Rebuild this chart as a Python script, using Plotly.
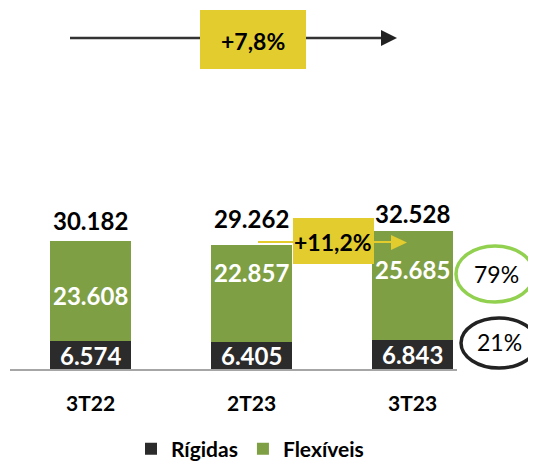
import plotly.graph_objects as go

# ---------------- data ----------------
categories = ["3T22", "2T23", "3T23"]
rigidas = [6574, 6405, 6843]
flexiveis = [23608, 22857, 25685]
totals = [30182, 29262, 32528]
growth_total = "+7,8%"
growth_qoq = "+11,2%"
share_flex = "79%"
share_rig = "21%"
series_names = ["Rígidas", "Flexíveis"]

# ---------------- style ----------------
# the page body has an 8px margin, so the figure is drawn 8px smaller
OFF = 8
W, H = 536 - OFF, 461 - OFF
L, R, T, B = 10 - OFF, 79, 0, 92
PW, PH = W - L - R, H - T - B
DARK = "#2B2B2B"
GREEN = "#7F9F45"
YELLOW = "#E2CC2E"
FONT = "Lato"


def fmt(v):
    return f"{v:,}".replace(",", ".")


def px(x):  # screen x of reference -> paper
    return (x - OFF - L) / PW


def py(y):  # screen y of reference -> paper
    return (T + PH - (y - OFF)) / PH


fig = go.Figure()
fig.add_trace(go.Bar(x=categories, y=rigidas, name=series_names[0],
                     marker=dict(color=DARK, line=dict(width=0)), width=0.503))
fig.add_trace(go.Bar(x=categories, y=flexiveis, name=series_names[1],
                     marker=dict(color=GREEN, line=dict(width=0)), width=0.503))

ann = []
bold = dict(family=FONT, size=24, color="black", weight="bold")
white = dict(family=FONT, size=24, color="white", weight="bold")
total_shift = [20, 26, 17]
flex_shift = [-55, -28, -39]
for i, c in enumerate(categories):
    ann.append(dict(x=c, y=totals[i], xref="x", yref="y", text=fmt(totals[i]),
                    showarrow=False, yshift=total_shift[i], font=bold,
                    xanchor="center", yanchor="middle"))
    ann.append(dict(x=c, y=totals[i], xref="x", yref="y", text=fmt(flexiveis[i]),
                    showarrow=False, yshift=flex_shift[i], font=white,
                    xanchor="center", yanchor="middle"))
    ann.append(dict(x=c, y=rigidas[i] / 2, xref="x", yref="y", text=fmt(rigidas[i]),
                    showarrow=False, font=white, xanchor="center", yanchor="middle"))

shapes = []
# top arrow
shapes.append(dict(type="line", xref="paper", yref="paper", x0=px(70), x1=px(384),
                   y0=py(38), y1=py(38), line=dict(color="#333333", width=2.5)))
shapes.append(dict(type="path", xref="paper", yref="paper",
                   path=f"M{px(381)},{py(30)} L{px(397)},{py(38)} L{px(381)},{py(46)} Z",
                   fillcolor="#222222", line=dict(width=0)))
shapes.append(dict(type="rect", xref="paper", yref="paper", x0=px(200), x1=px(306),
                   y0=py(69), y1=py(10), fillcolor=YELLOW, line=dict(width=0)))
ann.append(dict(x=px(253), y=py(41), xref="paper", yref="paper", text=growth_total,
                showarrow=False, xanchor="center", yanchor="middle",
                font=dict(family=FONT, size=23, color="black", weight="bold")))

# yellow arrow between 2T23 and 3T23
shapes.append(dict(type="line", xref="paper", yref="paper", x0=px(258), x1=px(394),
                   y0=py(242), y1=py(242), line=dict(color=YELLOW, width=2)))
shapes.append(dict(type="path", xref="paper", yref="paper",
                   path=f"M{px(391)},{py(235)} L{px(407)},{py(242.5)} L{px(391)},{py(250)} Z",
                   fillcolor=YELLOW, line=dict(width=0)))
shapes.append(dict(type="rect", xref="paper", yref="paper", x0=px(293), x1=px(374),
                   y0=py(264), y1=py(218), fillcolor=YELLOW, line=dict(width=0)))
ann.append(dict(x=px(333), y=py(242), xref="paper", yref="paper", text=growth_qoq,
                showarrow=False, xanchor="center", yanchor="middle",
                font=dict(family=FONT, size=23, color="black", weight="bold")))

# share ellipses
shapes.append(dict(type="circle", xref="paper", yref="paper", x0=px(456), x1=px(534),
                   y0=py(302), y1=py(246), line=dict(color="#92D050", width=3.5)))
ann.append(dict(x=px(496), y=py(274), xref="paper", yref="paper", text=share_flex,
                showarrow=False, xanchor="center", yanchor="middle",
                font=dict(family=FONT, size=23, color="black")))
shapes.append(dict(type="circle", xref="paper", yref="paper", x0=px(461), x1=px(537),
                   y0=py(368), y1=py(318), line=dict(color="#222222", width=3.5)))
ann.append(dict(x=px(499), y=py(342), xref="paper", yref="paper", text=share_rig,
                showarrow=False, xanchor="center", yanchor="middle",
                font=dict(family=FONT, size=23, color="black")))

fig.update_layout(
    width=W, height=H, margin=dict(l=L, r=R, t=T, b=B, autoexpand=False),
    paper_bgcolor="white", plot_bgcolor="white",
    barmode="stack", bargap=0,
    showlegend=True,
    legend=dict(orientation="h", x=px(250), xanchor="center", y=py(449), yanchor="middle",
                traceorder="normal",
                font=dict(family=FONT, size=21, color="black", weight="bold"),
                bgcolor="rgba(0,0,0,0)"),
    xaxis=dict(range=[-0.5, 2.276], showgrid=False, zeroline=False,
               showline=True, linecolor="#A6A6A6", linewidth=2, ticks="",
               tickfont=dict(family=FONT, size=21, color="black", weight="bold"),
               ticklabelstandoff=15, fixedrange=True),
    yaxis=dict(range=[0, PH / (128.3 / 30182)], visible=False, fixedrange=True),
    annotations=ann, shapes=shapes,
)
fig.write_html("out.html")
